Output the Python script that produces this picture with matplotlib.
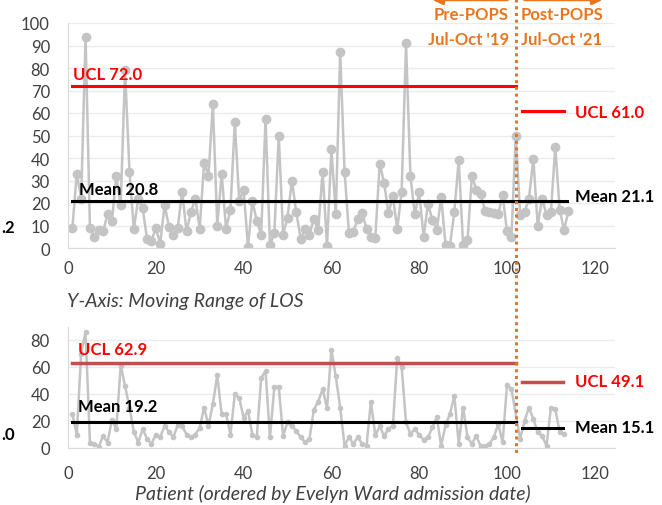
import numpy as np
import matplotlib
matplotlib.use("Agg")
import matplotlib.pyplot as plt
from matplotlib.patches import FancyArrowPatch
from matplotlib.lines import Line2D

plt.rcParams['font.family'] = ['Lato', 'DejaVu Sans']

# LOS per patient (top chart), pre and post POPS
los_pre = [9, 33, 22, 94, 9, 5, 8, 7.5, 15, 12, 32, 19, 79, 34, 8.5, 22, 18, 4, 3, 9,
           2, 19, 9.5, 6, 9, 25, 7.5, 16, 22, 8.5, 38, 32, 64, 10, 33, 8.5, 17, 56, 21, 26,
           0.5, 21, 12, 6, 57.5, 1.5, 6.5, 50, 6, 13.5, 30, 16, 4, 8.5, 6, 13, 8, 34, 1, 44,
           15, 87, 34, 6.5, 7, 13, 15.5, 8.5, 5, 4.5, 37.5, 29, 15.5, 23, 8.5, 25, 91, 32, 15, 25,
           5, 19.5, 12.5, 8, 22.5, 1.5, 1, 16, 39, 1.5, 3.5, 32, 26, 24, 16.5, 16, 15.5, 15, 23.5, 7.5,
           5, 50]
los_post = [14.5, 16, 22, 39.5, 10, 22, 14.5, 16, 45, 17, 8, 16.5]

# moving range (bottom chart)
mr_pre = [25, 10, 70, 86, 4, 3, 1, 9, 4, 21, 14, 61, 46, 30, 12, 4, 14, 7, 3, 10,
          8, 16.5, 12, 8, 17, 16, 10, 8, 10, 15, 30, 16.5, 32.5, 54, 25, 25, 10, 40, 37, 22.5,
          27.5, 10, 8, 52, 57, 8, 45, 45.5, 9, 19, 16, 12.8, 8, 4.2, 6.7, 28.4, 34.3, 43.7, 29.4, 72.8,
          53, 30, 1.7, 8, 3, 8, 3, 1.7, 34.3, 9.6, 16, 9, 14, 16.5, 67, 60, 19, 10.4, 14, 9.6,
          6.2, 8, 15.3, 22.7, 1.7, 17, 25.2, 38.7, 3, 30, 8, 3, 9, 1.2, 1.7, 3, 8, 17.8, 4.2, 46.7,
          43.7]
mr_post = [6.7, 20, 30, 21.5, 11.6, 9, 1.7, 30, 28.9, 11.6, 10.4]

# control limits: (pre, post)
los_mean = (20.8, 21.1)
los_ucl = (72.0, 61.0)
mr_mean = (19.2, 15.1)
mr_ucl = (62.9, 49.1)

split = 102
orange = '#E9761F'
grey = '#C4C4C4'
txt = '#404040'

x_los = np.arange(1, len(los_pre) + len(los_post) + 1)
y_los = np.array(los_pre + los_post)
x_mr = np.concatenate([np.arange(1, len(mr_pre) + 1),
                       np.arange(split + 1, split + 1 + len(mr_post))])
y_mr = np.array(mr_pre + mr_post)

fig = plt.figure(figsize=(6.62, 5.06), dpi=100)
W, H = 662, 506
left, right = 68 / W, 615 / W
ax1 = fig.add_axes([left, (H - 249) / H, right - left, 225 / H])
ax2 = fig.add_axes([left, (H - 449) / H, right - left, 121.5 / H])

xmax = 124.6
for ax in (ax1, ax2):
    ax.set_xlim(0, xmax)
    ax.set_xticks(range(0, 121, 20))
    ax.grid(axis='y', color='#EBEBEB', lw=1)
    ax.set_axisbelow(True)
    for s in ['top', 'right']:
        ax.spines[s].set_visible(False)
    for s in ['left', 'bottom']:
        ax.spines[s].set_color('#D9D9D9')
    ax.tick_params(length=0, labelsize=12, labelcolor=txt)
    ax.tick_params(axis='y', pad=13)

ax1.set_ylim(0, 100)
ax1.set_yticks(range(0, 101, 10))
ax1.tick_params(axis='x', pad=9)
ax2.set_ylim(0, 90)
ax2.set_yticks(range(0, 81, 20))
ax2.tick_params(axis='x', pad=12)

# top chart
ax1.plot(x_los, y_los, '-o', color=grey, lw=1.8, ms=6, zorder=2)
ax1.plot([1, split], [los_ucl[0]] * 2, color='#FF0000', lw=2.2, zorder=3)
ax1.plot([1, split], [los_mean[0]] * 2, color='black', lw=2.2, zorder=3)
ax1.plot([103.5, 113], [los_ucl[1]] * 2, color='#FF0000', lw=2.2, zorder=3)
ax1.plot([split + 0.5, 113.7], [los_mean[1]] * 2, color='black', lw=2.2, zorder=3)
ax1.text(1.1, 77.3, f'UCL {los_ucl[0]:.1f}', color='#FF0000', fontsize=12, fontweight='bold', va='center')
ax1.text(2.5, 26.2, f'Mean {los_mean[0]:.1f}', color='black', fontsize=12, fontweight='bold', va='center')
ax1.text(115.5, 60.4, f'UCL {los_ucl[1]:.1f}', color='#FF0000', fontsize=12, fontweight='bold', va='center')
ax1.text(115.6, 23.1, f'Mean {los_mean[1]:.1f}', color='black', fontsize=12, fontweight='bold', va='center')

# bottom chart
ax2.plot(x_mr, y_mr, '-o', color=grey, lw=1.8, ms=3, zorder=2)
ax2.plot([1, split], [mr_ucl[0]] * 2, color='#C0504D', lw=2.5, zorder=3)
ax2.plot([1, split], [mr_mean[0]] * 2, color='black', lw=2.2, zorder=3)
ax2.plot([103.4, 112.8], [mr_ucl[1]] * 2, color='#C0504D', lw=2.5, zorder=3)
ax2.plot([103.4, 112.8], [mr_mean[1]] * 2, color='black', lw=2.2, zorder=3)
ax2.text(2.3, 73.3, f'UCL {mr_ucl[0]:.1f}', color='#FF0000', fontsize=12, fontweight='bold', va='center')
ax2.text(2.3, 31.1, f'Mean {mr_mean[0]:.1f}', color='black', fontsize=12, fontweight='bold', va='center')
ax2.text(115.5, 49.6, f'UCL {mr_ucl[1]:.1f}', color='#FF0000', fontsize=12, fontweight='bold', va='center')
ax2.text(115.5, 15.6, f'Mean {mr_mean[1]:.1f}', color='black', fontsize=12, fontweight='bold', va='center')

fig.text(67 / W, 1 - 301 / H, 'Y-Axis: Moving Range of LOS', style='italic', fontsize=14,
         color=txt, va='center')
fig.text(333 / W, 1 - 494 / H, 'Patient (ordered by Evelyn Ward admission date)', style='italic',
         fontsize=14, color=txt, ha='center', va='center')

# partial labels at the left edge
fig.text(1 / W, 1 - 228 / H, '.2', fontsize=12, fontweight='bold', ha='left', va='center')
fig.text(1 / W, 1 - 435 / H, '.0', fontsize=12, fontweight='bold', ha='left', va='center')

# split line across both charts
xs = left + split / xmax * (right - left)
fig.add_artist(Line2D([xs, xs], [1.0, 1 - 456 / H], transform=fig.transFigure,
                      color=orange, lw=2.2, ls=(0, (1, 1.2))))

# header
fig.text(509 / W, 1 - 15 / H, 'Pre-POPS', color=orange, fontsize=12, fontweight='bold', ha='right', va='center')
fig.text(509 / W, 1 - 40 / H, "Jul-Oct '19", color=orange, fontsize=12, fontweight='bold', ha='right', va='center')
fig.text(521 / W, 1 - 15 / H, 'Post-POPS', color=orange, fontsize=12, fontweight='bold', ha='left', va='center')
fig.text(521 / W, 1 - 40 / H, "Jul-Oct '21", color=orange, fontsize=12, fontweight='bold', ha='left', va='center')
ya = 1 - 0.5 / H
fig.add_artist(FancyArrowPatch((510 / W, ya), (429 / W, ya), transform=fig.transFigure,
                               arrowstyle='-|>', mutation_scale=14, color=orange, lw=2.5))
fig.add_artist(FancyArrowPatch((522 / W, ya), (606 / W, ya), transform=fig.transFigure,
                               arrowstyle='-|>', mutation_scale=14, color=orange, lw=2.5))

fig.savefig('out.png', dpi=100)
